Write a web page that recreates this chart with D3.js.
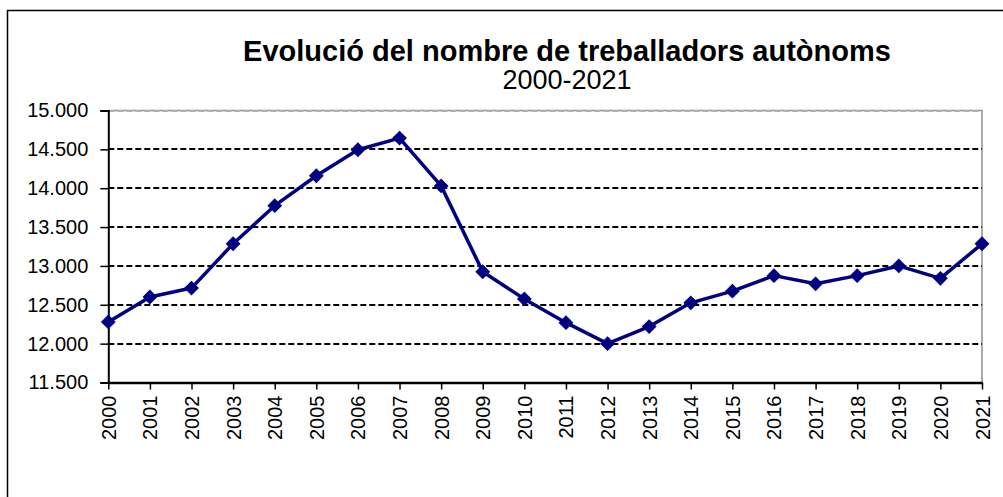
<!DOCTYPE html>
<html>
<head>
<meta charset="utf-8">
<script src="https://cdn.jsdelivr.net/npm/d3@7"></script>
<style>
  body { margin: 0; background: #fff; }
  svg { display: block; font-family: "Liberation Sans", Arial, sans-serif; }
</style>
</head>
<body>
<div id="chart"></div>
<script>
// data
var years = ["2000","2001","2002","2003","2004","2005","2006","2007","2008","2009","2010",
             "2011","2012","2013","2014","2015","2016","2017","2018","2019","2020","2021"];
var workers = [12280, 12600, 12715, 13285, 13775, 14160, 14495, 14645, 14030, 12925, 12575,
               12270, 12000, 12220, 12525, 12675, 12875, 12770, 12875, 13000, 12840, 13285];
var yTicks = [11500, 12000, 12500, 13000, 13500, 14000, 14500, 15000];
var title = "Evolució del nombre de treballadors autònoms";
var subtitle = "2000-2021";

var w = 1003, h = 497;
var plotLeft = 108.3, plotRight = 982, plotTop = 110.5, plotBottom = 382.5;

var svg = d3.select("#chart").append("svg")
    .attr("width", w)
    .attr("height", h);

// outer frame (runs off the right and bottom edge)
svg.append("rect")
    .attr("x", 7.5).attr("y", 10.5)
    .attr("width", 1010).attr("height", 500)
    .attr("fill", "none")
    .attr("stroke", "#000")
    .attr("stroke-width", 1.5);

var x = d3.scalePoint().domain(years).range([plotLeft, plotRight]);
var y = d3.scaleLinear().domain([11500, 15000]).range([plotBottom, plotTop]);

var fmt = d3.formatLocale({decimal: ",", thousands: ".", grouping: [3], currency: ["", ""]}).format(",d");

// plot area border (gray, top and right)
svg.append("path")
    .attr("d", "M" + plotLeft + "," + plotTop + "H" + plotRight + "V" + plotBottom)
    .attr("fill", "none")
    .attr("stroke", "#909090")
    .attr("stroke-width", 1.5);

// dashed gridlines
svg.append("g").selectAll("line")
    .data(yTicks.filter(function(d) { return d > 11500; }))
    .enter().append("line")
    .attr("x1", plotLeft).attr("x2", plotRight)
    .attr("y1", function(d) { return Math.round(y(d)); })
    .attr("y2", function(d) { return Math.round(y(d)); })
    .attr("stroke", function(d) { return d == 15000 ? "#b0b0b0" : "#000"; })
    .attr("stroke-width", 2)
    .attr("stroke-dasharray", "6,3");

// y axis
var yAxis = svg.append("g")
    .attr("transform", "translate(" + plotLeft + ",0)")
    .call(d3.axisLeft(y).tickValues(yTicks).tickFormat(fmt).tickSize(8).tickPadding(12));
yAxis.select(".domain").attr("stroke", "#000").attr("stroke-width", 2);
yAxis.selectAll(".tick line").attr("stroke", "#000").attr("stroke-width", 1.5);
yAxis.selectAll("text")
    .attr("font-size", "20px")
    .attr("font-family", "Liberation Sans, Arial, sans-serif")
    .attr("fill", "#000");

// x axis
var xAxis = svg.append("g")
    .attr("transform", "translate(0," + plotBottom + ")")
    .call(d3.axisBottom(x).tickSize(7).tickSizeOuter(0));
xAxis.select(".domain").attr("stroke", "#000").attr("stroke-width", 2.5);
xAxis.selectAll(".tick line").attr("stroke", "#000").attr("stroke-width", 1.5);
xAxis.selectAll("text")
    .attr("font-size", "20px")
    .attr("font-family", "Liberation Sans, Arial, sans-serif")
    .attr("fill", "#000")
    .attr("text-anchor", "end")
    .attr("transform", "rotate(-90)")
    .attr("x", -13)
    .attr("y", 0)
    .attr("dy", "0.35em");

// line
var line = d3.line()
    .x(function(d, i) { return x(years[i]); })
    .y(function(d) { return y(d); });

svg.append("path")
    .datum(workers)
    .attr("d", line)
    .attr("fill", "none")
    .attr("stroke", "#000080")
    .attr("stroke-width", 3.5)
    .attr("stroke-linejoin", "round");

// diamond markers
svg.append("g").selectAll("path")
    .data(workers)
    .enter().append("path")
    .attr("d", d3.symbol().type(d3.symbolSquare).size(110))
    .attr("transform", function(d, i) {
        return "translate(" + x(years[i]) + "," + y(d) + ") rotate(45)";
    })
    .attr("fill", "#000080");

// titles
svg.append("text")
    .attr("x", 567).attr("y", 61)
    .attr("text-anchor", "middle")
    .attr("font-size", "29px")
    .attr("font-weight", "bold")
    .text(title);

svg.append("text")
    .attr("x", 567).attr("y", 89)
    .attr("text-anchor", "middle")
    .attr("font-size", "27px")
    .text(subtitle);
</script>
</body>
</html>
